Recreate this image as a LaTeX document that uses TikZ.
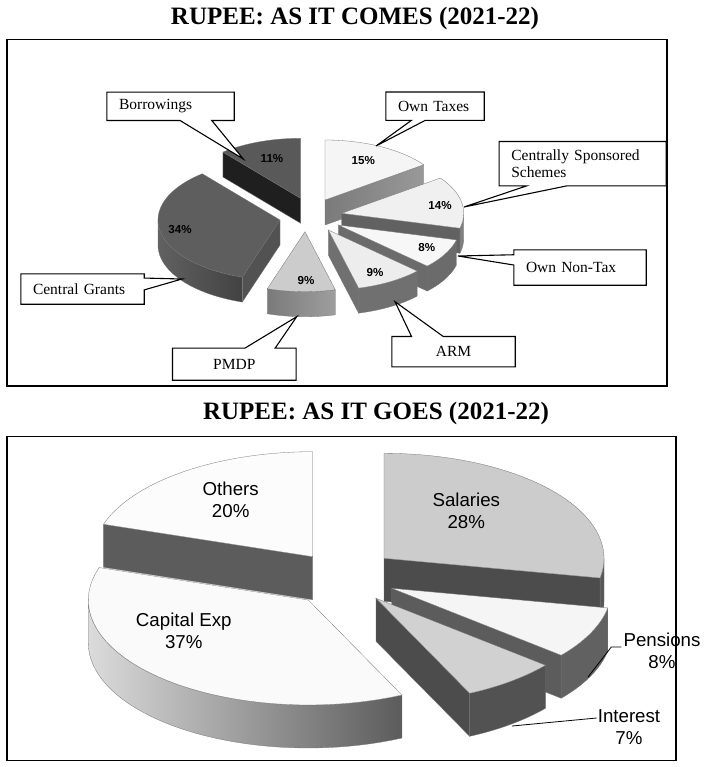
\documentclass[tikz,border=0pt]{standalone}
\usepackage{fontspec}
\setmainfont{Liberation Serif}
\newfontfamily\arialfont{Liberation Sans}
\usetikzlibrary{calc}
\pgfdeclarelayer{front}
\pgfsetlayers{main,front}

\tikzset{
  face/.style={draw=black!55, line width=0.3pt},
  frame/.style={draw, line width=1.2pt},
  title/.style={font=\bfseries\fontsize{25}{28}\selectfont},
  box/.style={inner xsep=12pt, inner ysep=0pt, align=left, font=\fontsize{15.5}{17}\selectfont},
  callout/.style={draw, fill=white, line width=1.1pt, line join=miter},
  pct/.style={font=\arialfont\bfseries\fontsize{11.6}{13}\selectfont, inner sep=0pt},
  share/.style={font=\arialfont\fontsize{18.7}{22}\selectfont, align=center, inner sep=0pt},
  leader/.style={draw, line width=0.8pt},
}

% wycinek: #1,#2 wierzcholek, #3,#4 katy, #5 wierzch, #6 bok, #7 przekroj
\newcommand{\pieslice}[7]{%
  \pgfmathsetmacro\angA{max(#3,90)}%
  \pgfmathsetmacro\angB{min(#4,270)}%
  \pgfmathtruncatemacro\vside{\angA<\angB}%
  \pgfmathtruncatemacro\vend{and(#4>0,#4<180)}%
  \pgfmathtruncatemacro\vstart{and(#3>180,#3<360)}%
  \ifnum\vside=1
    \path[face,#6] plot[domain=\angA:\angB, samples=40] ({#1+\prx*sin(\x)},{#2-\pry*cos(\x)})
      -- plot[domain=\angB:\angA, samples=40] ({#1+\prx*sin(\x)},{#2-\pry*cos(\x)+\pd}) -- cycle;
  \fi
  \ifnum\vend=1
    \path[face,#7] (#1,#2) -- ({#1+\prx*sin(#4)},{#2-\pry*cos(#4)}) -- ++(0,\pd) -- (#1,#2+\pd) -- cycle;
  \fi
  \ifnum\vstart=1
    \path[face,#7] (#1,#2) -- ({#1+\prx*sin(#3)},{#2-\pry*cos(#3)}) -- ++(0,\pd) -- (#1,#2+\pd) -- cycle;
  \fi
  \path[face,#5] (#1,#2) -- plot[domain=#3:#4, samples=40] ({#1+\prx*sin(\x)},{#2-\pry*cos(\x)}) -- cycle;
}

\begin{document}
\begin{tikzpicture}[x=1pt, y=-1pt]
  \path[use as bounding box, fill=white] (0,0) rectangle (709,767);

  % Titles
  \node[title] (t1) at (355,18.5) {RUPEE: AS IT COMES (2021-22)};
  \node[title] (t2) at (376,413) {RUPEE: AS IT GOES (2021-22)};

  % Pie 1
  \def\prx{122}\def\pry{60}\def\pd{25}
  \pieslice{300.7}{198.3}{320.4}{360}{fill=black!65}{fill=black!70}{fill=black!88}
  \pieslice{325}{200}{0}{54}{fill=black!4}{fill=black!45}{left color=black!52, right color=black!40}
  \pieslice{341.7}{213.3}{54}{104.4}{fill=black!6}{fill=black!50}{fill=black!62}
  \pieslice{280}{220}{198}{320.4}{fill=black!63}{left color=black!62, right color=black!74}{fill=black!68}
  \pieslice{338.3}{225}{104.4}{133.2}{fill=black!3}{fill=black!58}{fill=black!58}
  \pieslice{328.3}{230}{133.2}{165.6}{fill=black!7}{fill=black!56}{fill=black!56}
  \pieslice{305}{231.7}{165.6}{198}{fill=black!20}{left color=black!52, right color=black!38}{fill=black!45}

  % Pie 2
  \def\prx{220}\def\pry{105}\def\pd{43}
  \pieslice{312.7}{556.7}{288}{360}{fill=black!1}{fill=black!65}{fill=black!64}
  \pieslice{384}{558.3}{0}{100.8}{fill=black!20}{fill=black!66}{fill=black!70}
  \pieslice{308.3}{600}{154.8}{288}{fill=black!2}{left color=black!14, right color=black!64}{fill=black!60}
  \pieslice{391.7}{588.3}{100.8}{129.6}{fill=black!4}{fill=black!62}{fill=black!64}
  \pieslice{376}{598.3}{129.6}{154.8}{fill=black!18}{fill=black!68}{fill=black!70}

  % Labels
  \begin{pgfonlayer}{front}
    \node[pct] (p11) at (272,158.7) {11\%};
    \node[pct] (p15) at (363.3,160.8) {15\%};
    \node[pct] (p14) at (440,205.8) {14\%};
    \node[pct] (p8) at (426.7,248) {8\%};
    \node[pct] (p9a) at (375,272.8) {9\%};
    \node[pct] (p9b) at (306,280.5) {9\%};
    \node[pct] (p34) at (180,229.5) {34\%};

    \node[box, minimum width=127pt, minimum height=28pt, text width=103pt] (borr) at (170.5,106.3) {Borrowings};
    \node[box, minimum width=98pt, minimum height=28pt, text width=74pt] (tax) at (435,106.2) {Own Taxes};
    \node[box, minimum width=166.7pt, minimum height=44pt, text width=142.7pt] (css) at (582.7,163.7) {Centrally Sponsored\\Schemes};
    \node[box, minimum width=132pt, minimum height=35pt, text width=108pt] (ont) at (580,267.5) {Own Non-Tax};
    \node[box, align=center, minimum width=123pt, minimum height=30pt, text width=99pt] (arm) at (453.5,351.7) {ARM};
    \node[box, align=center, minimum width=123.3pt, minimum height=31.7pt, text width=99.3pt] (pmdp) at (234.3,364.2) {PMDP};
    \node[box, minimum width=123pt, minimum height=30pt, text width=99pt] (cg) at (82.5,289) {Central Grants};

    \node[share] (oth) at (230.7,500) {Others\\20\%};
    \node[share] (cap) at (183.8,630.8) {Capital Exp\\37\%};
    \node[share] (sal) at (466.3,510.8) {Salaries\\28\%};
    \node[share, inner xsep=2pt] (pens) at (662,651) {Pensions\\8\%};
    \node[share, inner xsep=1pt] (int) at (629,727) {Interest\\7\%};

    % Frames
    \draw[frame] (7,39.3) rectangle (667,386);
    \draw[frame] (7,436.7) rectangle (676,760.7);
  \end{pgfonlayer}

  % Callouts
  \coordinate (borrtip) at (243.3,159);
  \coordinate (taxtip) at (376,146);
  \coordinate (csstip) at (464,207);
  \coordinate (onttip) at (458,256);
  \coordinate (armtip) at (395,301.7);
  \coordinate (pmdptip) at (296.7,316.7);
  \coordinate (cgtip) at (182,279);

  \draw[callout] (borr.south east) -- ($(borr.south west)!.824!(borr.south east)$) -- (borrtip)
    -- ($(borr.south west)!.575!(borr.south east)$) -- (borr.south west) -- (borr.north west) -- (borr.north east) -- cycle;
  \draw[callout] (tax.south east) -- ($(tax.south west)!.40!(tax.south east)$) -- (taxtip)
    -- ($(tax.south west)!.26!(tax.south east)$) -- (tax.south west) -- (tax.north west) -- (tax.north east) -- cycle;
  \draw[callout] (css.south east) -- ($(css.south west)!.404!(css.south east)$) -- (csstip)
    -- ($(css.south west)!.164!(css.south east)$) -- (css.south west) -- (css.north west) -- (css.north east) -- cycle;
  \draw[callout] (ont.north west) -- ($(ont.north west)!.14!(ont.south west)$) -- (onttip)
    -- ($(ont.north west)!.43!(ont.south west)$) -- (ont.south west) -- (ont.south east) -- (ont.north east) -- cycle;
  \draw[callout] (arm.north west) -- ($(arm.north west)!.16!(arm.north east)$) -- (armtip)
    -- ($(arm.north west)!.417!(arm.north east)$) -- (arm.north east) -- (arm.south east) -- (arm.south west) -- cycle;
  \draw[callout] (pmdp.north west) -- ($(pmdp.north west)!.586!(pmdp.north east)$) -- (pmdptip)
    -- ($(pmdp.north west)!.83!(pmdp.north east)$) -- (pmdp.north east) -- (pmdp.south east) -- (pmdp.south west) -- cycle;
  \draw[callout] (cg.north east) -- ($(cg.north east)!.14!(cg.south east)$) -- (cgtip)
    -- ($(cg.north east)!.53!(cg.south east)$) -- (cg.south east) -- (cg.south west) -- (cg.north west) -- cycle;

  % Leaders
  \coordinate (penstip) at (588,677);
  \coordinate (inttip) at (512,726);
  \draw[leader] ([yshift=4pt]pens.west) -- ++(-10,0) -- (penstip);
  \draw[leader] ([yshift=9pt]int.west) -- (inttip);
\end{tikzpicture}
\end{document}
